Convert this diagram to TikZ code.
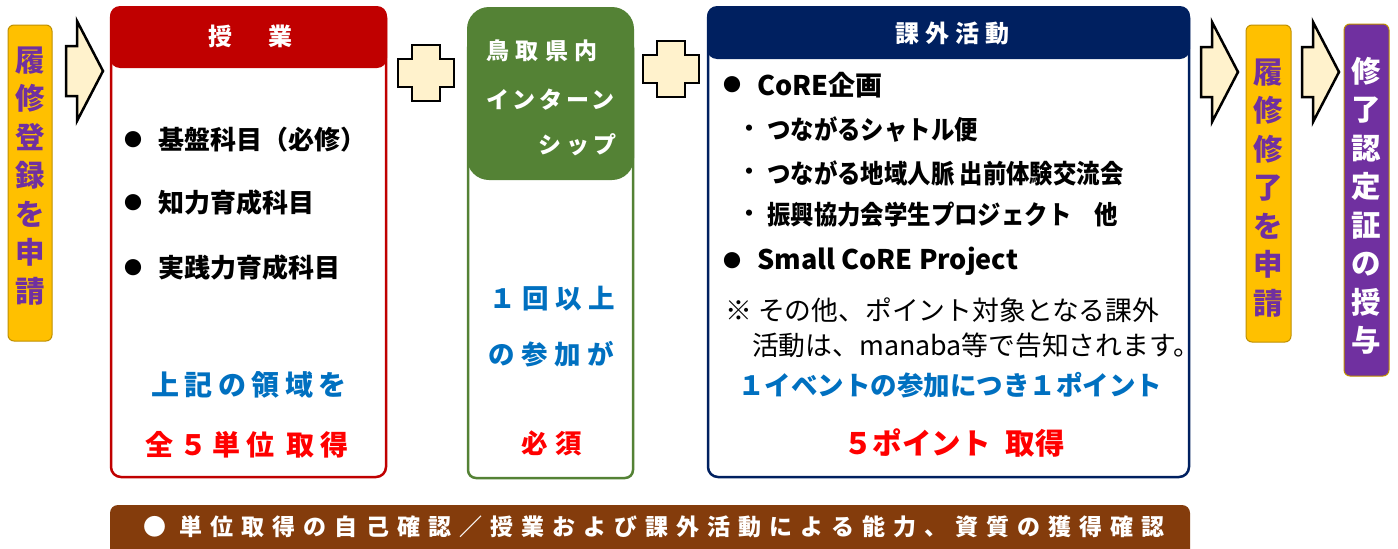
\documentclass[tikz,border=0pt]{standalone}
\usepackage{fontspec}
\setmainfont{Noto Sans CJK JP}
\newfontfamily\narrowjp{Noto Sans CJK JP}[FakeStretch=0.9]
\definecolor{Gold}{RGB}{255,192,0}
\definecolor{GoldLine}{RGB}{191,144,0}
\definecolor{Cream}{RGB}{255,242,204}
\definecolor{Lecture}{RGB}{192,0,0}
\definecolor{Intern}{RGB}{84,130,53}
\definecolor{Extra}{RGB}{0,32,96}
\definecolor{Bar}{RGB}{132,60,12}
\definecolor{Violet}{RGB}{112,48,160}
\definecolor{Note}{RGB}{0,112,192}
\definecolor{Goal}{RGB}{255,0,0}
\newcommand{\plusmark}[2]{\filldraw[fill=Cream, line width=2.5pt](#1+14,#2)--++(28,0)--++(0,14)--++(14,0)--++(0,28)--++(-14,0)--++(0,14)--++(-28,0)--++(0,-14)--++(-14,0)--++(0,-28)--++(14,0)--cycle;}
\newcommand{\blockarrow}[2]{\filldraw[fill=Cream, line width=2.5pt](#1,#2+25)--++(11,0)--++(0,-25)--++(26,50)--++(-26,50)--++(0,-25)--++(-11,0)--cycle;}
\newcommand{\sizefont}[2]{\fontsize{#1}{#2}\selectfont\bfseries}

\begin{document}
\begin{tikzpicture}[x=1pt,y=-1pt,
  every node/.style={inner sep=0pt},
  vlabel/.style={align=center, font=\sizefont{29.5}{38.5}},
  title/.style={text=white, font=\sizefont{24}{28}\addfontfeatures{LetterSpace=25}},
  headline/.style={text=white, font=\sizefont{23}{28}\addfontfeatures{LetterSpace=#1}},
  item/.style={anchor=west, font=\sizefont{26}{30}},
  dot/.style={font=\fontsize{18}{20}\selectfont},
  subdot/.style={font=\fontsize{22}{22}\selectfont\bfseries},
  sub/.style={anchor=west, font=\narrowjp\sizefont{26}{30}},
  bluetext/.style={text=Note, font=\sizefont{28}{30}\addfontfeatures{LetterSpace=20}},
  redtext/.style={text=Goal, font=\sizefont{28}{30}\addfontfeatures{LetterSpace=20}}]
\useasboundingbox (0,0) rectangle (1398,549);
\fill[white] (0,0) rectangle (1398,549);
\filldraw[fill=Gold, draw=GoldLine, line width=1pt, rounded corners=6] (8,25) rectangle (52,341);
\node[vlabel, text=Violet] (enrol) at (30,176) {履\\修\\登\\録\\を\\申\\請};
\blockarrow{66}{21}
\draw[draw=Lecture, line width=2.5pt, rounded corners=10] (111,8) rectangle (386,477);
\fill[Lecture, rounded corners=10] (110,6) rectangle (387,68);
\node[title] (lecture) at (250,36) {授　業};
\node[dot] (b1) at (133,140) {●};
\node[item] (basic) at (158,140) {基盤科目（必修）};
\node[dot] (b2) at (133,203) {●};
\node[item] (intel) at (158,203) {知力育成科目};
\node[dot] (b3) at (133,268) {●};
\node[item] (practice) at (158,268) {実践力育成科目};
\node[bluetext] (domain) at (249,385) {上記の領域を};
\node[redtext] (credits) at (247,445) {全５単位\hspace{0.45em}取得};
\plusmark{398}{45}
\draw[draw=Intern, line width=2.5pt, rounded corners=8] (468,40) rectangle (633,478);
\fill[Intern, rounded corners=22] (467,7) rectangle (634,180);
\node[headline=28, anchor=west] (pref) at (486,51) {鳥取県内};
\node[headline=16, anchor=west] (inter) at (486,100) {インターン};
\node[headline=20, anchor=east] (ship) at (617,145) {シップ};
\node[bluetext, font=\sizefont{26.5}{30}\addfontfeatures{LetterSpace=25}] (once) at (552,299) {１回以上};
\node[bluetext, font=\sizefont{26.5}{30}\addfontfeatures{LetterSpace=25}] (join) at (551,354) {の参加が};
\node[redtext, font=\sizefont{26.5}{30}\addfontfeatures{LetterSpace=30}] (must) at (552,443) {必須};
\plusmark{643}{41}
\draw[draw=Extra, line width=2.5pt, rounded corners=10] (708,8) rectangle (1189,477);
\fill[Extra, rounded corners=10] (707,6) rectangle (1190,59);
\node[title] (extra) at (952,33) {課外活動};
\node[dot] (b4) at (732,85) {●};
\node[item, font=\sizefont{27}{30}] (core) at (757,85) {CoRE企画};
\node[subdot] (s1) at (749,131) {・};
\node[sub] (shuttle) at (767,130) {つながるシャトル便};
\node[subdot] (s2) at (749,174) {・};
\node[sub] (network) at (767,173) {つながる地域人脈 出前体験交流会};
\node[subdot] (s3) at (749,216) {・};
\node[sub] (council) at (767,215) {振興協力会学生プロジェクト　他};
\node[dot] (b5) at (732,261) {●};
\node[item, font=\sizefont{27}{30}] (small) at (757,261) {Small CoRE Project};
\node[anchor=west, align=left, font=\fontsize{26.8}{35}\selectfont] (notice) at (725,327.5) {※ その他、ポイント対象となる課外\\\hspace*{1em}活動は、manaba等で告知されます。};
\node[bluetext, font=\sizefont{26.5}{30}] (point) at (950,385) {１イベントの参加につき１ポイント};
\node[redtext, font=\sizefont{29.5}{30}] (five) at (954,443) {５ポイント\hspace{0.5em}取得};
\blockarrow{1201}{22}
\filldraw[fill=Gold, draw=GoldLine, line width=1pt, rounded corners=6] (1246,25) rectangle (1291,342);
\node[vlabel, text=Violet] (finish) at (1268.5,188) {履\\修\\修\\了\\を\\申\\請};
\blockarrow{1302}{22}
\filldraw[fill=Violet, draw=GoldLine, line width=1pt, rounded corners=6] (1344,24) rectangle (1389,376);
\node[vlabel, text=white] (award) at (1366.5,206) {修\\了\\認\\定\\証\\の\\授\\与};
\fill[Bar, rounded corners=8] (110,560) -- (110,505) -- (1190,505) -- (1190,560) -- cycle;
\node[text=white, font=\sizefont{23}{26}\addfontfeatures{LetterSpace=35}] (check) at (654,527) {● 単位取得の自己確認／授業および課外活動による能力、資質の獲得確認};
\end{tikzpicture}
\end{document}
